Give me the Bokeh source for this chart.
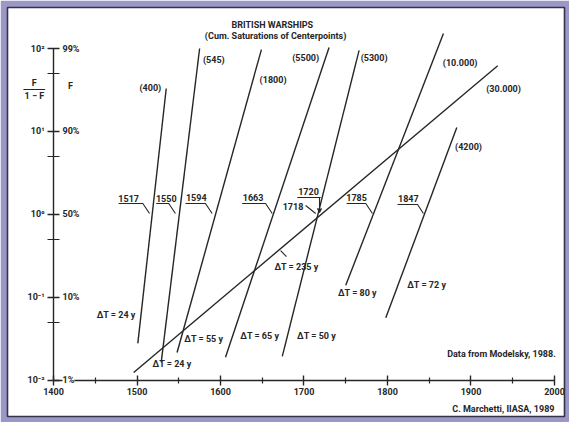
from bokeh.plotting import figure
from bokeh.models import FixedTicker, Label, Arrow, VeeHead, Range1d, ColumnDataSource
from bokeh.core.properties import value
from bokeh.embed import file_html
from bokeh.resources import INLINE

# ---------------- data ----------------
sat_labels = ["(400)", "(545)", "(1800)", "(5500)", "(5300)", "(10.000)", "(30.000)", "(4200)"]
start_year = [1501, 1529, 1548, 1606, 1674, 1750, 1496, 1798]
start_ratio = [0.028, 0.0165, 0.0217, 0.019, 0.0195, 0.14, 0.0125, 0.057]
end_year = [1535, 1575, 1649, 1730, 1766, 1867, 1932, 1883]
end_ratio = [33, 100, 97, 103, 95, 152, 62, 11.2]

mid_year_labels = ["1517", "1550", "1594", "1663", "1785", "1847"]
dt_labels = ["ΔT = 24 y", "ΔT = 24 y", "ΔT = 55 y", "ΔT = 65 y", "ΔT = 50 y",
             "ΔT = 235 y", "ΔT = 80 y", "ΔT = 72 y"]

year_ticks = [1400, 1500, 1600, 1700, 1800, 1900, 2000]
year_minor = [1450, 1550, 1650, 1750, 1850, 1950]
ratio_ticks = [0.01, 0.1, 1, 10, 100]
ratio_minor = [0.05, 0.5, 5, 50]
ratio_tick_labels = ["10\u207b\u00b2", "10\u207b\u00b9", "10\u2070", "10\u00b9", "10\u00b2"]
pct_labels = ["1%", "10%", "50%", "90%", "99%"]

# ---------------- layout / placement ----------------
sat_x = [1516, 1592, 1663, 1702, 1784, 1887, 1939, 1897]
sat_y = [33.0, 71.7, 41.2, 77.9, 77.9, 67.8, 32.1, 6.42]

mid_x = [1490, 1535, 1571, 1639, 1763, 1825]
mid_y = [1.56, 1.56, 1.60, 1.60, 1.60, 1.56]
lead_x = [[1478, 1507, 1515], [1523, 1538, 1546], [1558, 1582, 1590],
          [1626, 1654, 1662], [1751, 1774, 1782], [1812, 1836, 1843]]
lead_y = [[1.357, 1.357, 1.028], [1.357, 1.357, 1.028], [1.357, 1.357, 1.028],
          [1.357, 1.357, 1.028], [1.357, 1.357, 1.028], [1.32, 1.32, 1.028]]

dt_x = [1475, 1542, 1580, 1647, 1715, 1691, 1764, 1847]
dt_y = [0.0607, 0.0156, 0.0312, 0.0339, 0.0348, 0.2298, 0.1117, 0.1395]

FONT_NAME = "Roboto"
FONT = value(FONT_NAME)
FS = "9px"
INK = "#262626"

p = figure(width=569, height=422, output_backend="svg", toolbar_location=None,
           x_range=Range1d(1344.9, 2012.0), y_range=Range1d(0.003681, 311.9),
           y_axis_type="log",
           min_border_left=7, min_border_right=5, min_border_top=7, min_border_bottom=6)
p.grid.visible = False
p.outline_line_color = "#34334a"
p.outline_line_width = 1.6
p.background_fill_color = "white"
p.border_fill_color = "#9b98c8"

# x axis
xa = p.xaxis[0]
xa.fixed_location = 0.01
xa.bounds = (1400, 2000)
xa.ticker = FixedTicker(ticks=year_ticks, minor_ticks=year_minor)
xa.major_tick_in = 5
xa.major_tick_out = 5
xa.minor_tick_in = 3
xa.minor_tick_out = 3
xa.major_label_standoff = 3
# y axis
ya = p.yaxis[0]
ya.fixed_location = 1400
ya.bounds = (0.01, 100)
ya.ticker = FixedTicker(ticks=ratio_ticks, minor_ticks=ratio_minor)
ya.major_label_overrides = {t: s for t, s in zip(ratio_ticks, ratio_tick_labels)}
ya.major_tick_in = 6
ya.major_tick_out = 6
ya.minor_tick_in = 6
ya.minor_tick_out = 6
ya.major_label_standoff = 3
for ax in (xa, ya):
    ax.axis_line_color = INK
    ax.axis_line_width = 1.4
    ax.major_tick_line_color = INK
    ax.minor_tick_line_color = INK
    ax.major_tick_line_width = 1.4
    ax.minor_tick_line_width = 1.2
    ax.major_label_text_font = FONT_NAME
    ax.major_label_text_font_style = "bold"
    ax.major_label_text_font_size = FS
    ax.major_label_text_color = INK

# logistic lines
src = ColumnDataSource(dict(x0=start_year, y0=start_ratio, x1=end_year, y1=end_ratio))
p.segment(x0="x0", y0="y0", x1="x1", y1="y1", source=src, line_color=INK, line_width=1.4)

# leaders
p.multi_line(xs=lead_x, ys=lead_y, line_color=INK, line_width=1.1)
p.multi_line(xs=[[1692, 1720], [1702, 1714], [1672, 1679], [1364, 1390]],
             ys=[[1.603, 1.603], [1.284, 1.028], [0.368, 0.31], [32.1, 32.1]],
             line_color=INK, line_width=1.1)
p.add_layout(Arrow(end=VeeHead(size=4, line_color=INK, line_width=1.1),
                   x_start=1718.6, y_start=1.603, x_end=1718.6, y_end=1.06,
                   line_color=INK, line_width=1.1))

def txt(x, y, t, align="center", size=FS):
    p.text(x=x, y=y, text=t, text_align=align, text_baseline="middle",
           text_font=FONT, text_font_style="bold", text_font_size=size, text_color=INK)

txt(sat_x, sat_y, sat_labels)
txt(mid_x, mid_y, mid_year_labels)
txt([1705.4, 1686.8], [1.893, 1.248], ["1720", "1718"])
txt(dt_x, dt_y, dt_labels)
txt([1662], [189.3], ["BRITISH WARSHIPS"])
txt([1666], [143.4], ["(Cum. Saturations of Centerpoints)"])
txt([1936.5], [0.0211], ["Data from Modelsky, 1988."])
txt([2000], [0.00448], ["C. Marchetti, IIASA, 1989"], align="right")
txt([1377, 1377, 1420.4], [37.9, 27.1, 35.8], ["F", "1 \u2212 F", "F"])

for r, s in zip(ratio_ticks, pct_labels):
    p.add_layout(Label(x=1400, y=r, text=s, text_align="left", text_baseline="middle",
                       x_offset=9, text_font=FONT_NAME, text_font_style="bold",
                       text_font_size=FS, text_color=INK,
                       background_fill_color="white" if r == 0.01 else None))

open("out.html", "w").write(file_html(p, INLINE))
